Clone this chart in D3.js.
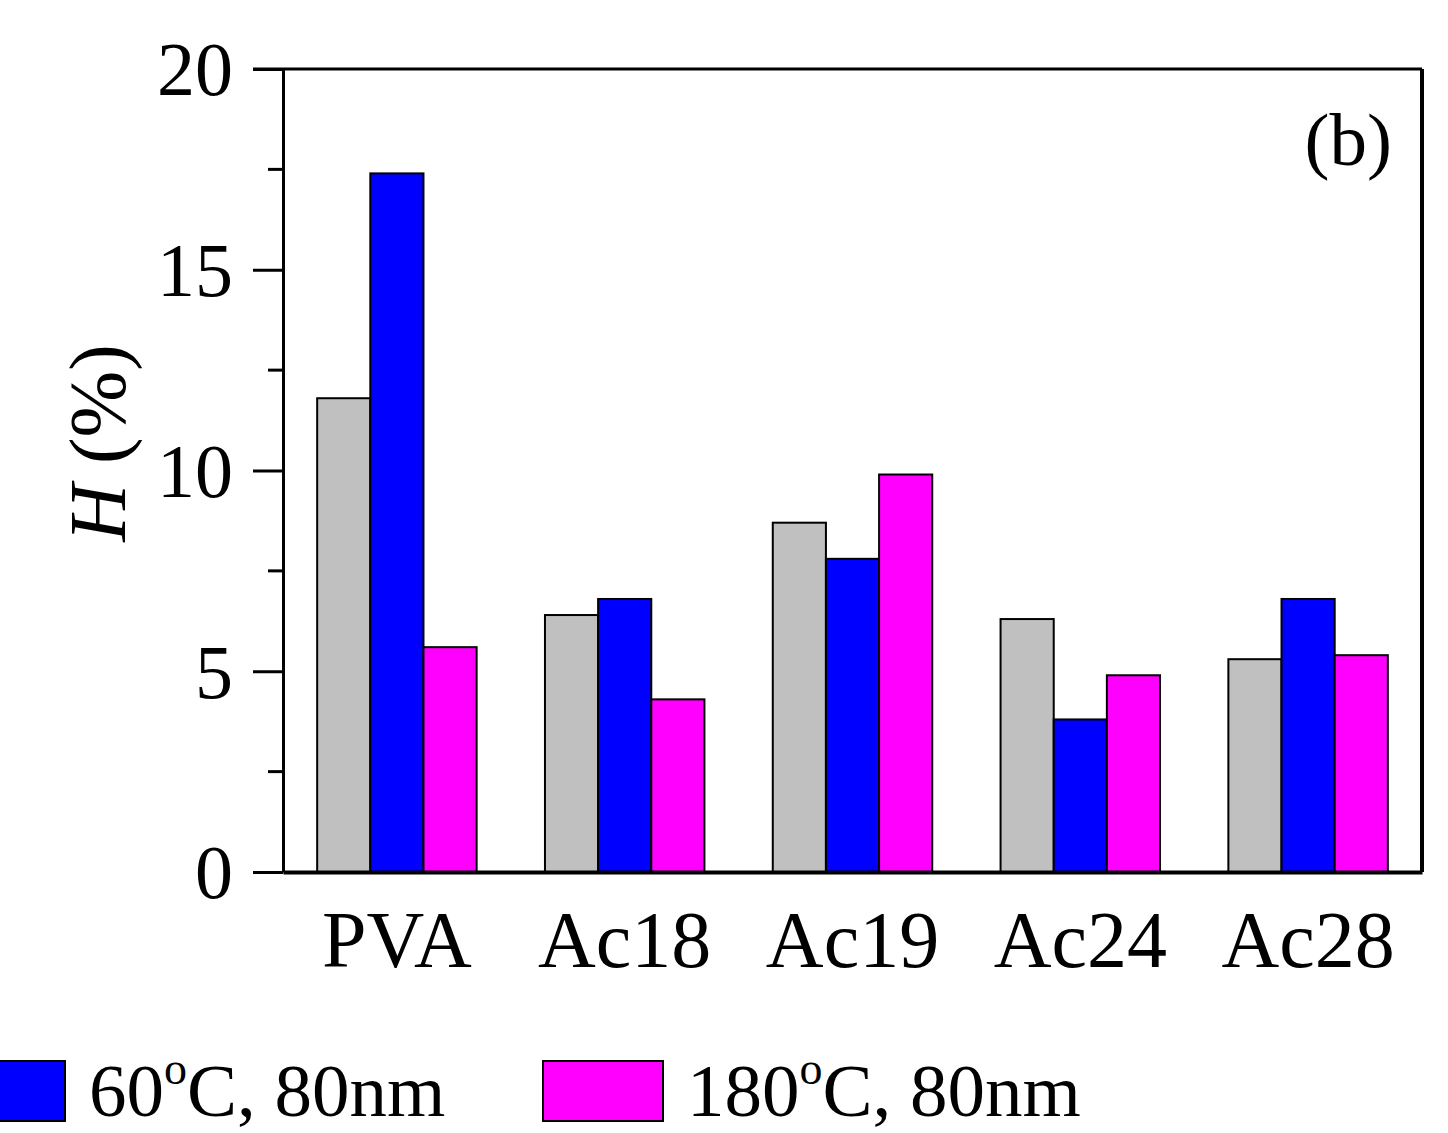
<!DOCTYPE html>
<html>
<head>
<meta charset="utf-8">
<script src="https://cdn.jsdelivr.net/npm/d3@7"></script>
<style>
  html, body { margin: 0; padding: 0; background: #fff; }
  svg { display: block; font-family: "Liberation Serif", "Times New Roman", serif; }
</style>
</head>
<body>
<div class="chart_container"></div>
<script>
var categories = ["PVA", "Ac18", "Ac19", "Ac24", "Ac28"];
var seriesKeys = ["gray", "blue", "magenta"];
var grayValues = [11.8, 6.4, 8.7, 6.3, 5.3];
var blueValues = [17.4, 6.8, 7.8, 3.8, 6.8];
var magentaValues = [5.6, 4.3, 9.9, 4.9, 5.4];
var yTicks = [0, 5, 10, 15, 20];
var yMinorTicks = [2.5, 7.5, 12.5, 17.5];
var legendLabels = [
  {key: "blue", base: "60", sup: "o", rest: "C, 80nm"},
  {key: "magenta", base: "180", sup: "o", rest: "C, 80nm"}
];

var colors = {gray: "#c0c0c0", blue: "#0000ff", magenta: "#ff00ff"};
var values = {gray: grayValues, blue: blueValues, magenta: magentaValues};

var W = 1448, H = 1133;
var margin = {top: 69, right: 26, bottom: 261, left: 283};
var width = W - margin.left - margin.right,
    height = H - margin.top - margin.bottom;

var svg = d3.select(".chart_container").append("svg")
    .attr("width", W)
    .attr("height", H);

var g = svg.append("g").attr("transform", "translate(" + margin.left + "," + margin.top + ")");

var x = d3.scaleBand()
    .domain(categories)
    .range([0, width])
    .paddingInner(0.3)
    .paddingOuter(0.15);
var x1 = d3.scaleBand()
    .domain(seriesKeys)
    .range([0, x.bandwidth()]);
var y = d3.scaleLinear()
    .domain([0, 20])
    .range([height, 0]);

// bars
var groups = g.selectAll(".grp")
    .data(categories)
    .enter().append("g")
    .attr("class", "grp")
    .attr("transform", function(d){ return "translate(" + x(d) + ",0)"; });
groups.selectAll("rect")
    .data(function(d, i){
        return seriesKeys.map(function(k){ return {key: k, value: values[k][i]}; });
    })
    .enter().append("rect")
    .attr("x", function(d){ return x1(d.key); })
    .attr("y", function(d){ return y(d.value); })
    .attr("width", x1.bandwidth())
    .attr("height", function(d){ return height - y(d.value); })
    .attr("fill", function(d){ return colors[d.key]; })
    .attr("stroke", "#000")
    .attr("stroke-width", 2);

// frame: top and right lines
g.append("line")
    .attr("x1", -30).attr("x2", width)
    .attr("y1", 0).attr("y2", 0)
    .attr("stroke", "#000").attr("stroke-width", 3);
g.append("line")
    .attr("x1", width).attr("x2", width)
    .attr("y1", 0).attr("y2", height)
    .attr("stroke", "#000").attr("stroke-width", 4);

// left axis
var yAxis = g.append("g")
    .call(d3.axisLeft(y).tickValues(yTicks).tickSize(30).tickPadding(20).tickSizeOuter(0));
yAxis.select(".domain").attr("stroke-width", 3);
yAxis.selectAll(".tick line").attr("stroke-width", 3);
yAxis.selectAll(".tick text")
    .attr("font-size", 76)
    .attr("font-family", "Liberation Serif")
    .attr("dy", "0.34em")
    .attr("fill", "#000");
g.selectAll(".minor")
    .data(yMinorTicks)
    .enter().append("line")
    .attr("class", "minor")
    .attr("x1", -15).attr("x2", 0)
    .attr("y1", function(d){ return y(d); })
    .attr("y2", function(d){ return y(d); })
    .attr("stroke", "#000").attr("stroke-width", 3);

// bottom axis
var xAxis = g.append("g")
    .attr("transform", "translate(0," + height + ")")
    .call(d3.axisBottom(x).tickSize(0).tickPadding(38).tickSizeOuter(0));
xAxis.select(".domain").attr("stroke-width", 4);
xAxis.selectAll(".tick text")
    .attr("font-size", 80)
    .attr("font-family", "Liberation Serif")
    .attr("dy", "0.71em")
    .attr("fill", "#000");

// y label
var yl = svg.append("text")
    .attr("transform", "translate(125,443) rotate(-90)")
    .attr("text-anchor", "middle")
    .attr("font-size", 80);
yl.append("tspan").attr("font-style", "italic").text("H");
yl.append("tspan").text(" (%)");

// panel tag
svg.append("text")
    .attr("x", 1392).attr("y", 165)
    .attr("text-anchor", "end")
    .attr("font-size", 75)
    .text("(b)");

// legend
var legend = svg.selectAll(".legend")
    .data(legendLabels)
    .enter().append("g")
    .attr("class", "legend")
    .attr("transform", function(d, i){ return "translate(" + (-55 + i * 598) + ",1061)"; });
legend.append("rect")
    .attr("width", 120).attr("height", 60)
    .attr("fill", function(d){ return colors[d.key]; })
    .attr("stroke", "#000").attr("stroke-width", 2);
var lt = legend.append("text")
    .attr("x", 144).attr("y", 55)
    .attr("font-size", 75);
lt.append("tspan").text(function(d){ return d.base; });
lt.append("tspan").attr("dy", -32).attr("font-size", 46).text(function(d){ return d.sup; });
lt.append("tspan").attr("dy", 32).text(function(d){ return d.rest; });
</script>
</body>
</html>
